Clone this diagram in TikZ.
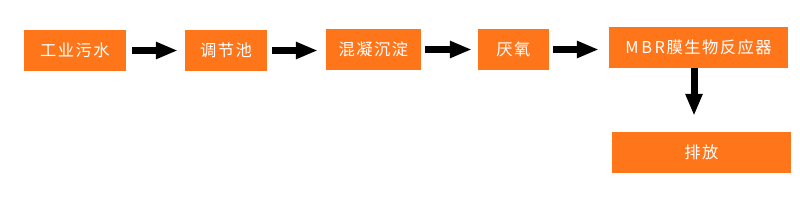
\documentclass[tikz,border=0pt]{standalone}
\usepackage{fontspec}
\setmainfont{Noto Sans CJK SC}[LetterSpace=9]
\usepackage{tikz}
\usetikzlibrary{arrows.meta}
\definecolor{boxorange}{RGB}{255,117,26}

\begin{document}
\begin{tikzpicture}[x=1pt,y=-1pt,font=\fontsize{16.3}{19}\selectfont,
  box/.style={fill=boxorange,text=white,minimum height=41pt,inner sep=0pt},
  flow/.style={line width=7pt,-{Triangle[length=22pt,width=16pt]}}]
 \useasboundingbox (0,0) rectangle (800,214);
 % ---- main line
 \node[box,minimum width=102pt] (ww)  at (75,50.5)    {工业污水};
 \node[box,minimum width=82pt]  (eq)  at (226,50.5)   {调节池};
 \node[box,minimum width=95pt]  (cs)  at (373.5,49.5) {混凝沉淀};
 \node[box,minimum width=71pt]  (an)  at (513.5,49.5) {厌氧};
 \node[box,minimum width=179pt] (mbr) at (698.5,47.5) {M\,B\,R膜生物反应器};
 \node[box,minimum width=179pt] (out) at (701.5,152.5) {排放};
 % ---- arrows
 \draw[flow,shorten <=6pt,shorten >=7pt] (ww.east) -- (ww.east -| eq.west);
 \draw[flow,shorten <=5pt,shorten >=8pt] (eq.east) -- (eq.east -| cs.west);
 \draw[flow,shorten <=4pt,shorten >=6pt] (cs.east) -- (cs.east -| an.west);
 \draw[flow,shorten <=4pt,shorten >=10pt] (an.east) -- (an.east -| mbr.west);
 \draw[flow,shorten >=16pt] ([xshift=-4.5pt]mbr.south) -- ([xshift=-4.5pt]mbr.south |- out.north);
\end{tikzpicture}
\end{document}
